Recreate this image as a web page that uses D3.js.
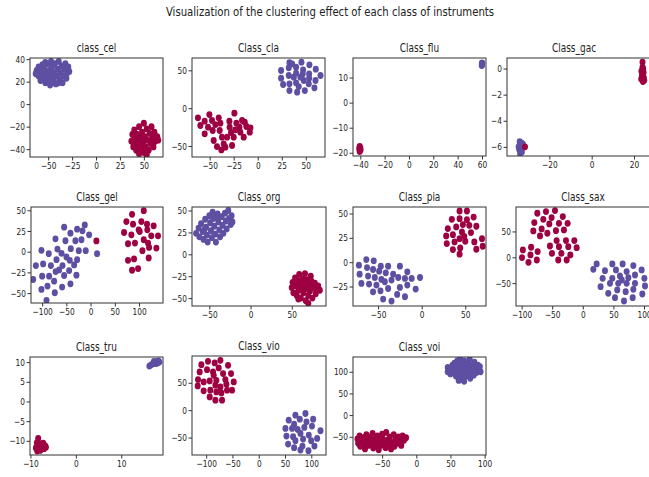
<!DOCTYPE html>
<html>
<head>
<meta charset="utf-8">
<script src="https://cdn.jsdelivr.net/npm/d3@7"></script>
<style>
  body { margin: 0; background: #fff; }
  text { font-family: "DejaVu Sans", sans-serif; fill: #222; }
</style>
</head>
<body>
<script>
// panel titles
var titles = ["class_cel", "Class_cla", "Class_flu", "Class_gac",
              "Class_gel", "Class_org", "Class_pia", "Class_sax",
              "Class_tru", "Class_vio", "Class_voi"];

// axis ranges and ticks
var xDomains = [[-69, 70], [-68.4, 70], [-46, 63.3], [-40, 29.9],
                [-123, 149.5], [-71, 91.5], [-78.8, 73.8], [-109.2, 118],
                [-10.1, 19.2], [-127, 128], [-92.6, 102]];
var yDomains = [[-47, 41], [-64.5, 66.3], [-21.3, 17.8], [-6.7, 0.81],
                [-62, 54], [-59, 54], [-45, 56.7], [-94.2, 97.3],
                [-13.6, 11.3], [-81.8, 98.8], [-92, 134]];
var xTicks = [[-50, -25, 0, 25, 50], [-50, -25, 0, 25, 50], [-40, -20, 0, 20, 40, 60], [-20, 0, 20],
              [-100, -50, 0, 50, 100], [-50, 0, 50], [-50, 0, 50], [-100, -50, 0, 50, 100],
              [-10, 0, 10], [-100, -50, 0, 50, 100], [-50, 0, 50, 100]];
var yTicks = [[-40, -20, 0, 20, 40], [-50, 0, 50], [-20, -10, 0, 10], [-6, -4, -2, 0],
              [-50, -25, 0, 25, 50], [-50, -25, 0, 25, 50], [-25, 0, 25, 50], [-50, 0, 50],
              [-10, -5, 0, 5, 10], [-50, 0, 50], [-50, 0, 50, 100]];

// point clouds: blue = class 1, red = class 0
var celBlue = [[-62,30],[-60,25],[-60,33],[-58,21],[-57,28],[-56,35],[-55,24],[-54,31],[-53,19],[-52,27],
  [-51,36],[-50,22],[-49,30],[-48,17],[-47,26],[-47,38],[-46,33],[-45,21],[-44,28],[-43,36],[-42,18],
  [-41,25],[-40,31],[-39,38],[-38,22],[-37,28],[-36,34],[-35,19],[-34,25],[-33,31],[-32,36],[-31,23],
  [-30,28],[-29,33],[-28,29],[-53,37],[-58,31],[-44,24],[-39,19],[-63,27]];
var celRed = [[37,-33],[38,-27],[39,-38],[40,-23],[41,-31],[42,-41],[43,-27],[44,-35],[45,-20],[46,-30],
  [47,-39],[48,-25],[49,-34],[50,-17],[50,-43],[51,-29],[52,-38],[53,-22],[54,-32],[55,-41],[56,-26],
  [57,-35],[58,-20],[59,-30],[60,-38],[61,-25],[62,-33],[64,-29],[65,-32],[45,-44],[53,-45],[41,-36]];

var claBlue = [[33,60],[45.5,60.8],[53.8,57.3],[60.4,51.5],[24.3,49.8],[32.3,53.3],[39.9,54.2],[47.2,50.7],
  [53.5,45.4],[65.3,43.2],[24.3,39.6],[32.3,43.2],[39.9,46.3],[46.9,45.4],[53.5,39.6],[60.1,36.6],
  [26.4,31.3],[33,32.2],[39.9,33.5],[47.9,36.6],[53.1,32.2],[59,26.9],[33,23.3],[41,21.1],[49,23.3],
  [42.7,28.6],[37.5,41],[44.4,41],[35.8,58.6]];
var claRed = [[-62.2,-12.8],[-59.7,-22.9],[-55.2,-17.2],[-55.2,-33.9],[-51.7,-25.1],[-50.3,-8.4],
  [-47.6,-16.3],[-46.9,-29.5],[-44.1,-21.6],[-40.6,-12.8],[-39.6,-29.5],[-38.9,-19.8],[-45.8,-42.7],
  [-42.4,-50.7],[-37.8,-55.1],[-33.7,-51.5],[-31.9,-38.3],[-29.5,-17.2],[-29.2,-25.1],[-27.8,-32.2],
  [-26.7,-49.3],[-24.3,-6.6],[-23.3,-28.6],[-22.2,-19.8],[-19.1,-25.1],[-18.1,-31.7],[-14.6,-38.3],
  [-13.5,-18.5],[-11.8,-24.2],[-7.6,-26],[-8.3,-31.7],[-35.4,-47.1],[-25,-38.3],[-16.3,-16.3],[-37.2,-38.3]];

var fluBlue = [[60,15],[60.2,15.5],[59.8,14.8],[60.1,15.8],[60,15.2],[59.9,15.6]];
var fluRed = [[-40.5,-17.5],[-40,-18],[-40.8,-18.5],[-40.2,-19],[-40.5,-19.5],[-39.8,-18.8],[-40.6,-18.2]];

var gacBlue = [[-34,-5.6],[-33.5,-5.9],[-34.2,-6.2],[-33,-6.4],[-32.5,-5.8],[-33.8,-6.5],[-32.8,-6.1],
  [-34.5,-6],[-33.2,-5.7]];
var gacRed = [[24,0.5],[24,0.1],[23.5,-0.2],[24.5,-0.3],[23.8,-0.5],[24.6,-0.7],[23.4,-0.8],[24.2,-1],
  [24.8,-0.9],[23.9,-0.6],[24.3,0],[-31.5,-6]];

var gelBlue = [[-54.6,29.6],[-12,32.4],[-27.8,27.2],[-41.6,22.4],[-16.8,25.2],[-3,20.4],[-72.5,15.6],
  [-51.9,13.2],[-31.3,13.2],[-18.9,14.4],[-101.4,1.6],[-68.4,3.2],[-40.9,3.6],[-24.4,1.2],[-10,1.2],
  [13.4,-2.4],[-86.3,-2.4],[-49.8,-6.4],[-70.4,-9.6],[-43,-10.4],[-27.8,-9.6],[-113,-16.8],[-98,-14.8],
  [-82,-16.8],[-58,-16.8],[-44.3,-22.8],[-100,-29.6],[-85.6,-29.6],[-54.6,-28.8],[-29.2,-28.4],
  [-118.6,-33.6],[-75.3,-35.6],[-41.6,-38.8],[-101.4,-45.6],[-89,-41.6],[-58.8,-42.8],[-73.9,-49.6],
  [-91,-58.8],[-65,-22],[-34,-16],[-60,-2],[-72,-24]];
var gelRed = [[109.8,49.6],[85.6,45.2],[73.9,36.4],[104.8,36.4],[87.6,33.2],[116.5,33.2],[130.2,31.2],
  [99.3,26.4],[117.1,26.4],[69.1,23.2],[84.2,20.4],[101.4,24.4],[125.3,19.2],[139.2,19.2],[109.8,14.4],
  [91.6,10.4],[77.3,9.6],[118.6,10.4],[135.8,4.4],[120.7,5.2],[107,1.2],[77.3,-10.4],[89.7,-8.8],
  [119.9,-7.6],[85.6,-22.4],[98,-20.4],[12,13]];

var orgBlue = [[-66,24],[-63,30],[-62,20],[-60,35],[-58,26],[-57,17],[-55,40],[-54,31],[-53,22],[-52,14],
  [-50,44],[-49,36],[-48,27],[-47,19],[-45,41],[-44,32],[-43,23],[-42,14],[-40,46],[-39,37],[-38,28],
  [-37,20],[-35,43],[-34,33],[-33,24],[-31,47],[-30,38],[-29,29],[-27,50],[-26,41],[-24,34],[-22,37],
  [-23,44],[-46,48],[-56,28],[-41,42]];
var orgRed = [[50,-38],[51,-32],[52,-44],[54,-27],[55,-36],[56,-47],[57,-30],[58,-41],[59,-23],[60,-34],
  [61,-50],[62,-38],[63,-28],[64,-44],[65,-33],[66,-22],[67,-53],[68,-39],[69,-29],[70,-47],[71,-35],
  [72,-42],[73,-25],[74,-31],[75,-50],[76,-38],[78,-33],[79,-45],[80,-40],[82,-36],[70,-56],[58,-51],[84,-41]];

var piaBlue = [[-63.5,2.7],[-55,1.4],[-72,-3.1],[-62.7,-5.5],[-55.8,-7.5],[-46.9,-4.1],[-48.8,-9.2],
  [-38.5,-4.1],[-71.2,-12.3],[-61.5,-14.3],[-53.8,-15.7],[-46.2,-17.7],[-41.2,-10.9],[-32.7,-12.3],
  [-25,-4.1],[-16.5,-9.9],[-69.2,-21.8],[-60.4,-22.5],[-51.9,-23.5],[-42.3,-20.1],[-34.6,-18.4],
  [-26.9,-15.7],[-19.2,-16.7],[-11.5,-16.7],[-1.9,-15.7],[-55.8,-30.4],[-47.3,-29.4],[-38.5,-27],
  [-25,-25.9],[-16.5,-23.5],[-6.9,-27.6],[-44.2,-37.9],[-34.6,-39.9],[-28.1,-33.1],[-19.2,-35.5]];
var piaRed = [[43.5,52.6],[51.9,52.6],[34.6,44],[43.5,44.7],[51.9,43.7],[59.6,46.4],[30,34.5],[39.6,36.2],
  [47.3,38.6],[54.6,37.9],[62.7,36.9],[28.1,27],[35.8,28.3],[46.2,31.1],[56.5,30.4],[48.8,26.6],
  [28.8,19.1],[37.7,20.8],[43.5,24.2],[50,21.5],[60.4,20.8],[69.2,24.2],[35.8,13],[44.2,14.7],
  [62.7,13.3],[70,16.4],[43.5,8.2]];

var saxBlue = [[22.6,-12.9],[17.2,-23.2],[48.2,-12.9],[65.1,-12.9],[82.6,-16.1],[36.2,-25.8],[54.2,-24.5],
  [71.6,-27.7],[96.1,-24.5],[32.4,-40.6],[48.2,-40.6],[60.7,-36.1],[74.4,-39.4],[85.3,-34.2],
  [100.6,-40.6],[29.1,-56.8],[44.4,-50.3],[57.9,-50.3],[71.6,-50.3],[85.3,-50.3],[101.7,-55.5],
  [41.6,-69.7],[56.3,-63.2],[70,-66.5],[82.6,-61.9],[97.3,-71],[52.6,-78.1],[67.3,-84.5],[81.5,-78.1],
  [63.7,-43.9]];
var saxRed = [[-74.4,85.2],[-60.2,88.4],[-45.5,90.3],[-32.7,78.7],[-79.3,67.1],[-64.6,73.5],[-51,76.8],
  [-54.8,64.5],[-39,65.8],[-24.8,65.8],[-80.9,51],[-67.3,54.8],[-58,46.5],[-43.9,51.6],[-30.8,52.9],
  [-70,41.3],[-42.8,32.3],[-27.5,32.3],[-13.9,32.3],[-53.7,21.9],[-39,20.6],[-23.7,20.6],[-10.1,18.7],
  [-98,14.2],[-84.5,19.4],[-50.4,7.7],[-35.1,7.7],[-20.4,4.5],[-85.6,4.5],[-73.8,11],[-99.4,-0.6],
  [-75.2,-5.2],[-88.8,-9.7],[-40.1,-5.2],[-26.4,-5.2]];

var truBlue = [[16.2,9.0],[16.6,9.3],[17,9.6],[17.4,9.9],[17.8,10.1],[18.2,10.3],[17.6,9.6],[18.0,9.8],
  [18.4,10.0],[17.2,10.2]];
var truRed = [[-8.3,-9.4],[-8.6,-10.5],[-8.0,-11],[-7.4,-10.8],[-6.8,-11.2],[-8.8,-11.8],[-8.2,-12.2],
  [-7.6,-11.8],[-7,-12],[-8.5,-12.6],[-7.8,-12.4],[-6.6,-11.6],[-7.2,-10.6]];

var vioBlue = [[88.9,-6.1],[69.8,-9.1],[57.1,-18.2],[78.1,-16.4],[103.5,-16.4],[67.3,-25.5],[90.8,-21.2],
  [50.8,-33.3],[63.5,-33.3],[74,-35.2],[86.7,-31.5],[101.3,-29.1],[117.5,-37.6],[52.7,-47.3],
  [65.4,-48.5],[79.4,-42.4],[95.2,-45.5],[111.1,-51.5],[55.9,-61.8],[69.8,-55.8],[84.4,-52.7],
  [99.7,-55.8],[67.3,-68.5],[83.2,-65.5],[94.6,-73.9],[106,-65.5],[79.4,-72.7]];
var vioRed = [[-109.2,83],[-96.5,89.1],[-83.8,86.1],[-73,90.9],[-58.4,81.8],[-112.4,69.7],[-98.4,73.9],
  [-87,69.7],[-76.2,77],[-67.9,66.7],[-52.7,66.7],[-115.6,55.8],[-104.8,51.5],[-93.3,53.3],[-80.6,54.5],
  [-63.5,55.8],[-47.6,51.5],[-116.2,44.2],[-104.8,35.2],[-92.1,36.4],[-82.5,45.5],[-73,42.4],
  [-61.6,47.3],[-80.6,33.3],[-71.1,31.5],[-60.3,36.4],[-50.8,36.4],[-93.3,24.2],[-82.5,18.2],
  [-69.8,18.2],[-85.7,63.6]];

var voiBlue = [[46,110],[46,100],[50,105],[50,95],[53,115],[53,105],[56,120],[56,110],[56,98],[58,90],
  [60,125],[60,112],[61,100],[63,88],[64,130],[65,118],[65,105],[67,95],[68,82],[70,125],[70,112],
  [72,100],[73,90],[75,120],[76,108],[77,95],[78,130],[79,85],[81,115],[82,102],[84,92],[85,122],
  [86,110],[88,98],[90,115],[91,105],[93,112],[94,100],[70,78],[62,80]];
var voiRed = [[-86,-55],[-85,-65],[-83,-48],[-82,-72],[-80,-60],[-78,-52],[-77,-68],[-75,-78],[-73,-45],
  [-72,-60],[-70,-70],[-68,-52],[-66,-64],[-64,-42],[-63,-76],[-61,-56],[-59,-68],[-57,-48],[-55,-80],
  [-54,-60],[-52,-70],[-50,-44],[-49,-55],[-47,-65],[-45,-75],[-44,-40],[-42,-58],[-40,-68],[-39,-50],
  [-37,-78],[-35,-62],[-33,-45],[-32,-72],[-30,-55],[-28,-65],[-26,-50],[-24,-60],[-22,-70],[-20,-48],
  [-18,-58],[-15,-52]];

var blues = [celBlue, claBlue, fluBlue, gacBlue, gelBlue, orgBlue, piaBlue, saxBlue, truBlue, vioBlue, voiBlue];
var reds = [celRed, claRed, fluRed, gacRed, gelRed, orgRed, piaRed, saxRed, truRed, vioRed, voiRed];

//Width and height
var width = 649;
var height = 477;
var squeeze = 0.78;   // the picture is narrower than matplotlib's text

// axes boxes [left, top, right, bottom]
var boxes = [[30, 58, 163, 157], [192, 58, 325, 157], [353, 58, 486, 156], [507, 58, 655, 156],
             [31, 207, 163, 303], [192, 207, 326, 306], [353, 207, 486, 306], [516, 207, 655, 306],
             [30, 357, 163, 455], [192, 356, 326, 455], [353, 357, 486, 455]];

var svg = d3.select("body")
            .append("svg")
            .attr("width", width)
            .attr("height", height);

svg.append("text")
   .attr("transform", "translate(330,16) scale(" + squeeze + ",1)")
   .attr("text-anchor", "middle")
   .style("font-size", "13px")
   .text("Visualization of the clustering effect of each class of instruments");

titles.forEach(function(title, i) {
    var b = boxes[i];
    var x = d3.scaleLinear().domain(xDomains[i]).range([b[0], b[2]]);
    var y = d3.scaleLinear().domain(yDomains[i]).range([b[3], b[1]]);
    var g = svg.append("g");

    g.append("clipPath").attr("id", "clip" + i)
     .append("rect")
     .attr("x", b[0]).attr("y", b[1])
     .attr("width", b[2] - b[0]).attr("height", b[3] - b[1]);

    var pts = g.append("g").attr("clip-path", "url(#clip" + i + ")");

    pts.selectAll("ellipse.b")
       .data(blues[i])
       .enter()
       .append("ellipse")
       .attr("cx", d => x(d[0]))
       .attr("cy", d => y(d[1]))
       .attr("rx", 3).attr("ry", 3.4)
       .style("fill", "#5e4fa2");

    pts.selectAll("ellipse.r")
       .data(reds[i])
       .enter()
       .append("ellipse")
       .attr("cx", d => x(d[0]))
       .attr("cy", d => y(d[1]))
       .attr("rx", 3).attr("ry", 3.4)
       .style("fill", "#9e0142");

    // frame
    g.append("rect")
     .attr("x", b[0]).attr("y", b[1])
     .attr("width", b[2] - b[0]).attr("height", b[3] - b[1])
     .style("fill", "none")
     .style("stroke", "#333")
     .style("stroke-width", 1);

    var xAxis = g.append("g")
       .attr("transform", "translate(0," + b[3] + ")")
       .call(d3.axisBottom(x).tickValues(xTicks[i]).tickSize(3.5).tickPadding(1.5));
    var yAxis = g.append("g")
       .attr("transform", "translate(" + b[0] + ",0)")
       .call(d3.axisLeft(y).tickValues(yTicks[i]).tickSize(3.5).tickPadding(1.5));

    [xAxis, yAxis].forEach(function(a) {
        a.select(".domain").remove();
        a.selectAll("line").style("stroke", "#333");
        a.selectAll("text")
         .style("font-size", "9.5px")
         .style("font-family", "DejaVu Sans, sans-serif")
         .style("fill", "#222");
    });
    xAxis.selectAll("text").attr("transform", "scale(" + squeeze + ",1)");
    yAxis.selectAll("text")
         .attr("x", -5 / squeeze)
         .attr("transform", "scale(" + squeeze + ",1)");

    g.append("text")
     .attr("transform", "translate(" + ((b[0] + Math.min(b[2], b[0] + 134)) / 2) + "," + (b[1] - 6.5) + ") scale(" + squeeze + ",1)")
     .attr("text-anchor", "middle")
     .style("font-size", "11.5px")
     .text(title);
});
</script>
</body>
</html>
